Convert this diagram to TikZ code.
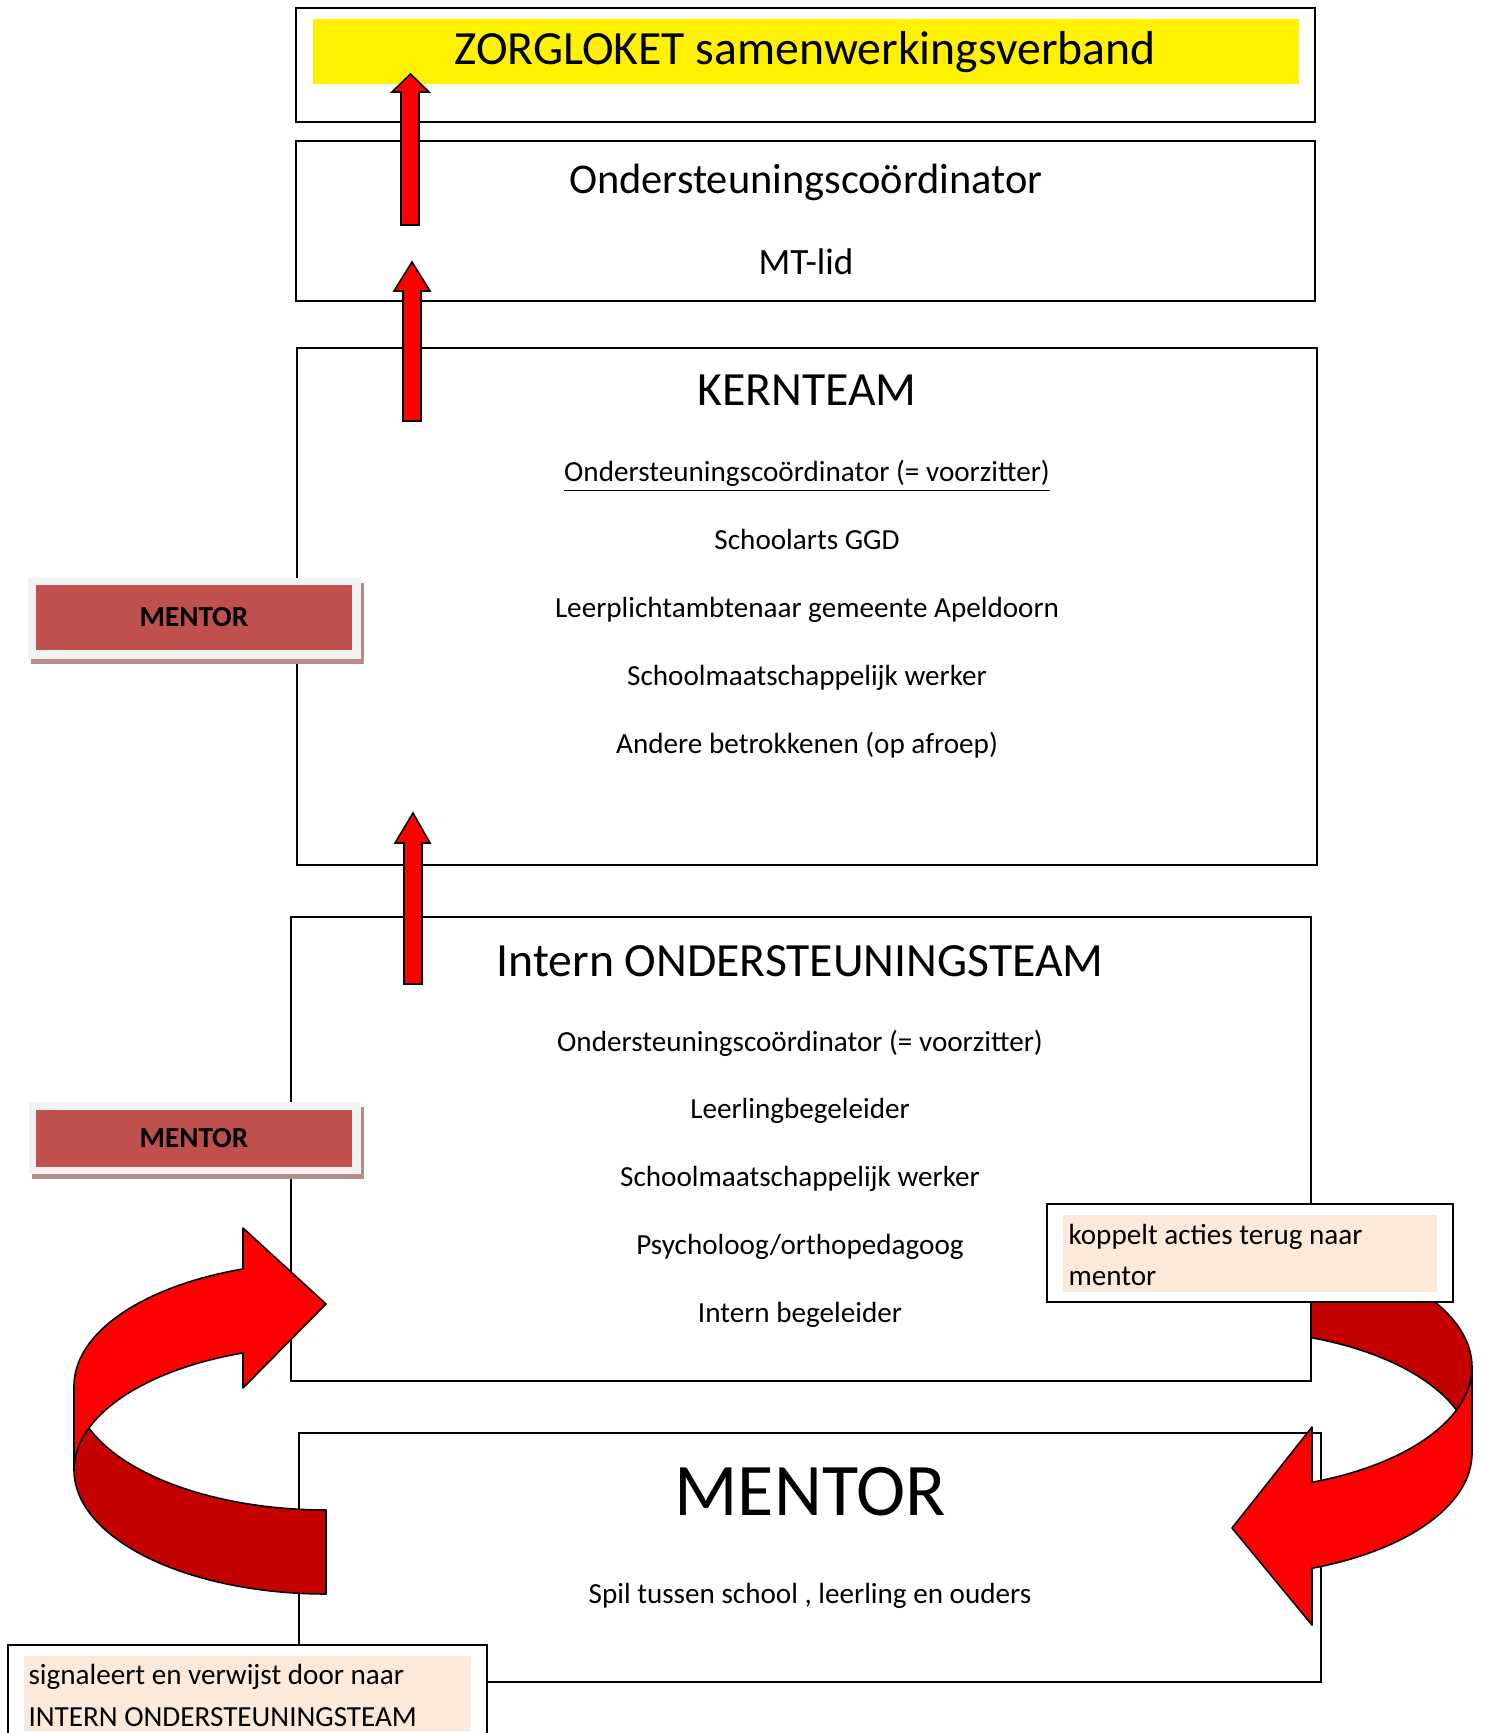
\documentclass[tikz,border=0pt]{standalone}
\usepackage{fontspec}
\setmainfont{Carlito}
\newlength\px
\setlength\px{0.3774pt}
\definecolor{darkred}{HTML}{C40000}
\definecolor{badgered}{HTML}{C0504D}
\definecolor{badgeframe}{HTML}{F2F2F2}
\definecolor{badgeshadow}{RGB}{180,140,140}
\definecolor{peach}{HTML}{FDE9D9}
\begin{document}
\begin{tikzpicture}[x=\px,y=-\px]
\tikzstyle{box}=[draw,line width=0.75pt,fill=white,inner sep=0pt,outer sep=0pt]
\tikzstyle{lbl}=[anchor=base,inner sep=0pt]
\tikzstyle{ribbon}=[draw,line width=0.6pt,line join=round]
\tikzstyle{uparrow}=[draw,line width=0.6pt,fill=red,line join=miter]
\tikzstyle{plain}=[inner sep=0pt,outer sep=0pt]
\useasboundingbox (0,0) rectangle (1485,1733);
\node[style={box,minimum width=1022\px,minimum height=249\px}] (5) at (810,1557.5) {};
\draw[ribbon,fill=darkred] plot[domain=0:90,samples=40,variable=\t] ({1226+246*cos(\t)},{1367-123*sin(\t)})
    -- plot[domain=90:0,samples=40,variable=\t] ({1226+246*cos(\t)},{1453-123*sin(\t)}) -- cycle;
\draw[ribbon,fill=red] (1312,1482) -- (1312,1427) -- (1232,1528) -- (1312,1625) -- (1312,1568)
    -- plot[domain=-69.5:0,samples=40,variable=\t] ({1226+246*cos(\t)},{1453-123*sin(\t)})
    -- plot[domain=0:-69.5,samples=40,variable=\t] ({1226+246*cos(\t)},{1367-123*sin(\t)}) -- cycle;
\node[style={box,minimum width=1020\px,minimum height=464\px}] (4) at (801,1149) {};
\node[style={box,minimum width=1020\px,minimum height=517\px}] (3) at (807,606.5) {};
\node[style={box,minimum width=1019\px,minimum height=160\px}] (2) at (805.5,221) {};
\node[style={box,minimum width=1019\px,minimum height=114\px}] (1) at (805.5,65) {};
\node[style={plain,fill=yellow,minimum width=986\px,minimum height=65\px}] (1y) at (806,51.5) {};
\draw[ribbon,fill=darkred] plot[domain=180:270,samples=40,variable=\t] ({326+252*cos(\t)},{1386-124*sin(\t)})
    -- plot[domain=270:180,samples=40,variable=\t] ({326+252*cos(\t)},{1470-124*sin(\t)}) -- cycle;
\draw[ribbon,fill=red] (243,1269) -- (243,1228) -- (326,1304) -- (243,1388) -- (243,1353)
    -- plot[domain=109.2:180,samples=40,variable=\t] ({326+252*cos(\t)},{1470-124*sin(\t)})
    -- plot[domain=180:109.2,samples=40,variable=\t] ({326+252*cos(\t)},{1386-124*sin(\t)}) -- cycle;
\node[lbl,font=\fontsize{18}{22}\selectfont] (1t) at (805,65) {ZORGLOKET samenwerkingsverband};
\node[lbl,font=\fontsize{16}{19}\selectfont] (2t) at (806,194) {Ondersteuningsco\"ordinator};
\node[lbl,font=\fontsize{14}{17}\selectfont] (2s) at (806,275) {MT-lid};
\node[lbl,font=\fontsize{18}{22}\selectfont] (3t) at (807,406) {KERNTEAM};
\node[lbl,font=\fontsize{11}{13}\selectfont] (3a) at (807,482) {\underline{Ondersteuningsco\"ordinator (= voorzitter)}};
\node[lbl,font=\fontsize{11}{13}\selectfont] (3b) at (807,549.5) {Schoolarts GGD};
\node[lbl,font=\fontsize{11}{13}\selectfont] (3c) at (807,617.5) {Leerplichtambtenaar gemeente Apeldoorn};
\node[lbl,font=\fontsize{11}{13}\selectfont] (3d) at (807,685.5) {Schoolmaatschappelijk werker};
\node[lbl,font=\fontsize{11}{13}\selectfont] (3e) at (807,753.5) {Andere betrokkenen (op afroep)};
\node[lbl,font=\fontsize{18}{22}\selectfont] (4t) at (800,976) {Intern ONDERSTEUNINGSTEAM};
\node[lbl,font=\fontsize{11}{13}\selectfont] (4a) at (800,1051) {Ondersteuningsco\"ordinator (= voorzitter)};
\node[lbl,font=\fontsize{11}{13}\selectfont] (4b) at (800,1118.5) {Leerlingbegeleider};
\node[lbl,font=\fontsize{11}{13}\selectfont] (4c) at (800,1186.5) {Schoolmaatschappelijk werker};
\node[lbl,font=\fontsize{11}{13}\selectfont] (4d) at (800,1254.5) {Psycholoog/orthopedagoog};
\node[lbl,font=\fontsize{11}{13}\selectfont] (4e) at (800,1322.5) {Intern begeleider};
\node[lbl,font=\fontsize{28}{33}\selectfont] (5t) at (810,1515) {MENTOR};
\node[lbl,font=\fontsize{11}{13}\selectfont] (5a) at (810,1603) {Spil tussen school , leerling en ouders};
\node[style={plain,fill=badgeshadow,minimum width=333\px,minimum height=81\px}] (m1s) at (197.5,623.5) {};
\node[style={plain,fill=badgeframe,minimum width=333\px,minimum height=81\px}] (m1f) at (194.5,618.5) {};
\node[style={plain,fill=badgered,minimum width=316\px,minimum height=65\px,font=\fontsize{11}{13}\selectfont\bfseries}] (m1) at (194,617) {MENTOR};
\node[style={plain,fill=badgeshadow,minimum width=332\px,minimum height=72\px}] (m2s) at (198,1143) {};
\node[style={plain,fill=badgeframe,minimum width=332\px,minimum height=72\px}] (m2f) at (195,1138) {};
\node[style={plain,fill=badgered,minimum width=316\px,minimum height=57\px,font=\fontsize{11}{13}\selectfont\bfseries}] (m2) at (194,1138.5) {MENTOR};
\node[style={box,minimum width=406\px,minimum height=98\px}] (k) at (1250,1253) {};
\node[style={plain,fill=peach,minimum width=374\px,minimum height=77\px}] (kf) at (1250,1253.5) {};
\node[lbl,anchor=base west,font=\fontsize{11}{13}\selectfont] (ka) at (1068,1244) {koppelt acties terug naar};
\node[lbl,anchor=base west,font=\fontsize{11}{13}\selectfont] (kb) at (1068,1285) {mentor};
\node[style={box,minimum width=479\px,minimum height=115\px}] (s) at (247.5,1702.5) {};
\node[style={plain,fill=peach,minimum width=447\px,minimum height=75\px}] (sf) at (247.5,1693.5) {};
\node[lbl,anchor=base west,font=\fontsize{11}{13}\selectfont] (sa) at (28,1684) {signaleert en verwijst door naar};
\node[lbl,anchor=base west,font=\fontsize{11}{13}\selectfont] (sb) at (28,1726) {INTERN ONDERSTEUNINGSTEAM};
\draw[uparrow] (401,225) -- (401,92) -- (392,92) -- (410.5,74) -- (429,92) -- (419,92) -- (419,225) -- cycle;
\draw[uparrow] (403,421) -- (403,291) -- (394,291) -- (412,262) -- (430,291) -- (421,291) -- (421,421) -- cycle;
\draw[uparrow] (404,984) -- (404,843) -- (395,843) -- (413,813) -- (430,843) -- (422,843) -- (422,984) -- cycle;
\end{tikzpicture}
\end{document}
